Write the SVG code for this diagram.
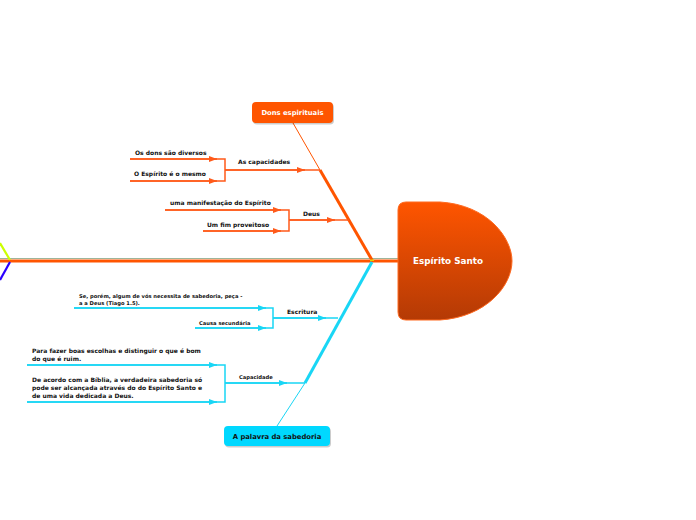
<svg xmlns="http://www.w3.org/2000/svg" width="696" height="520" viewBox="0 0 696 520">
<defs>
<linearGradient id="mg" x1="0" y1="0" x2="0" y2="1">
<stop offset="0" stop-color="#ff5500"/>
<stop offset="1" stop-color="#b43a05"/>
</linearGradient>
<marker id="ao" viewBox="0 0 8 6" refX="8" refY="3" markerWidth="8" markerHeight="6" markerUnits="userSpaceOnUse" orient="auto"><path d="M0,0 L8,3 L0,6 Z" fill="#ff5a1a"/></marker>
<marker id="ac" viewBox="0 0 8 6" refX="8" refY="3" markerWidth="8" markerHeight="6" markerUnits="userSpaceOnUse" orient="auto"><path d="M0,0 L8,3 L0,6 Z" fill="#19d6f5"/></marker>
</defs>
<style>
text{font-family:"DejaVu Sans","Liberation Sans",sans-serif;font-weight:bold;fill:#111}
.s{font-size:6px}
.xs{font-size:5.2px}
.o{stroke:#ff5a1a;stroke-width:1.5;fill:none}
.c{stroke:#19d6f5;stroke-width:1.5;fill:none}
.lbl{font-size:6.8px;fill:#fff}
</style>
<rect width="696" height="520" fill="#fff"/>
<g id="connectors">
<line x1="0" y1="258.5" x2="398" y2="258.5" stroke="#9fb59a" stroke-width="1"/>
<line x1="0" y1="261" x2="398" y2="261" stroke="#ff5500" stroke-width="3"/>
<line x1="0" y1="243" x2="10" y2="260" stroke="#ccff00" stroke-width="2.2"/>
<line x1="10" y1="262" x2="0" y2="280" stroke="#2a00ff" stroke-width="2.2"/>
<line x1="372" y1="260" x2="320" y2="170" stroke="#ff5500" stroke-width="3"/>
<line x1="320" y1="170" x2="293" y2="123" stroke="#ff5500" stroke-width="1"/>
<line x1="372" y1="262" x2="305" y2="383" stroke="#19d6f5" stroke-width="3"/>
<line x1="305" y1="383" x2="277" y2="426" stroke="#19d6f5" stroke-width="1"/>
<rect x="370" y="259.5" width="4" height="1.5" fill="#e8d000"/>
<line class="o" x1="225" y1="170" x2="320" y2="170"/>
<line class="o" x1="225" y1="170" x2="305" y2="170" marker-end="url(#ao)"/>
<polyline class="o" points="130,159 225,159 225,181 130,181"/>
<line class="o" x1="130" y1="159" x2="217" y2="159" marker-end="url(#ao)"/>
<line class="o" x1="130" y1="181" x2="217" y2="181" marker-end="url(#ao)"/>
<line class="o" x1="289" y1="220" x2="349" y2="220"/>
<line class="o" x1="289" y1="220" x2="335" y2="220" marker-end="url(#ao)"/>
<polyline class="o" points="165,210 289,210 289,231 203,231"/>
<line class="o" x1="165" y1="210" x2="281" y2="210" marker-end="url(#ao)"/>
<line class="o" x1="203" y1="231" x2="281" y2="231" marker-end="url(#ao)"/>
<line class="c" x1="273" y1="318" x2="338" y2="318"/>
<line class="c" x1="273" y1="318" x2="326" y2="318" marker-end="url(#ac)"/>
<polyline class="c" points="74,308 273,308 273,328 195,328"/>
<line class="c" x1="74" y1="308" x2="266" y2="308" marker-end="url(#ac)"/>
<line class="c" x1="195" y1="328" x2="266" y2="328" marker-end="url(#ac)"/>
<line class="c" x1="225" y1="383" x2="305" y2="383"/>
<line class="c" x1="225" y1="383" x2="287" y2="383" marker-end="url(#ac)"/>
<polyline class="c" points="27,365 225,365 225,402 27,402"/>
<line class="c" x1="27" y1="365" x2="217" y2="365" marker-end="url(#ac)"/>
<line class="c" x1="27" y1="402" x2="217" y2="402" marker-end="url(#ac)"/>
</g>
<g id="main">
<path d="M406,202 L440,202 C488,205 512,238 512,261 C512,286 486,317 440,320 L406,320 Q398,320 398,312 L398,210 Q398,202 406,202 Z" fill="url(#mg)" stroke="#ff6a20" stroke-width="1"/>
<text x="448" y="264" text-anchor="middle" style="font-size:8.8px;fill:#fff">Espírito Santo</text>
</g>
<g id="dons">
<rect x="253" y="103.5" width="81" height="21" rx="4" fill="#000" opacity="0.2"/>
<rect x="252" y="102" width="81" height="21" rx="4" fill="#ff5500"/>
<text x="292.5" y="115" text-anchor="middle" class="lbl">Dons espirituais</text>
</g>
<g id="capacidades"><text x="238" y="164" class="s">As capacidades</text></g>
<g id="diversos"><text x="135" y="155" class="s">Os dons são diversos</text></g>
<g id="mesmo"><text x="134" y="176" class="s">O Espírito é o mesmo</text></g>
<g id="deus"><text x="303" y="216" class="s">Deus</text></g>
<g id="manifestacao"><text x="170" y="205" class="s">uma manifestação do Espírito</text></g>
<g id="fim"><text x="207" y="227" class="s">Um fim proveitoso</text></g>
<g id="palavra">
<rect x="225" y="427.5" width="106" height="20" rx="4" fill="#000" opacity="0.2"/>
<rect x="224" y="426" width="106" height="20" rx="4" fill="#00d8ff"/>
<text x="277" y="439" text-anchor="middle" style="font-size:6.8px">A palavra da sabedoria</text>
</g>
<g id="escritura"><text x="287" y="314" class="s">Escritura</text></g>
<g id="tiago"><text x="79" y="298" class="xs">Se, porém, algum de vós necessita de sabedoria, peça -</text><text x="79" y="304.5" class="xs">a a Deus (Tiago 1.5).</text></g>
<g id="causa"><text x="199" y="325" class="xs">Causa secundária</text></g>
<g id="capacidade"><text x="239" y="379" class="xs">Capacidade</text></g>
<g id="escolhas"><text x="32" y="353" class="s">Para fazer boas escolhas e distinguir o que é bom</text><text x="32" y="361" class="s">do que é ruim.</text></g>
<g id="biblia"><text x="32" y="382" class="s">De acordo com a Bíblia, a verdadeira sabedoria só</text><text x="32" y="390" class="s">pode ser alcançada através do do Espírito Santo e</text><text x="32" y="398" class="s">de uma vida dedicada a Deus.</text></g>
</svg>
